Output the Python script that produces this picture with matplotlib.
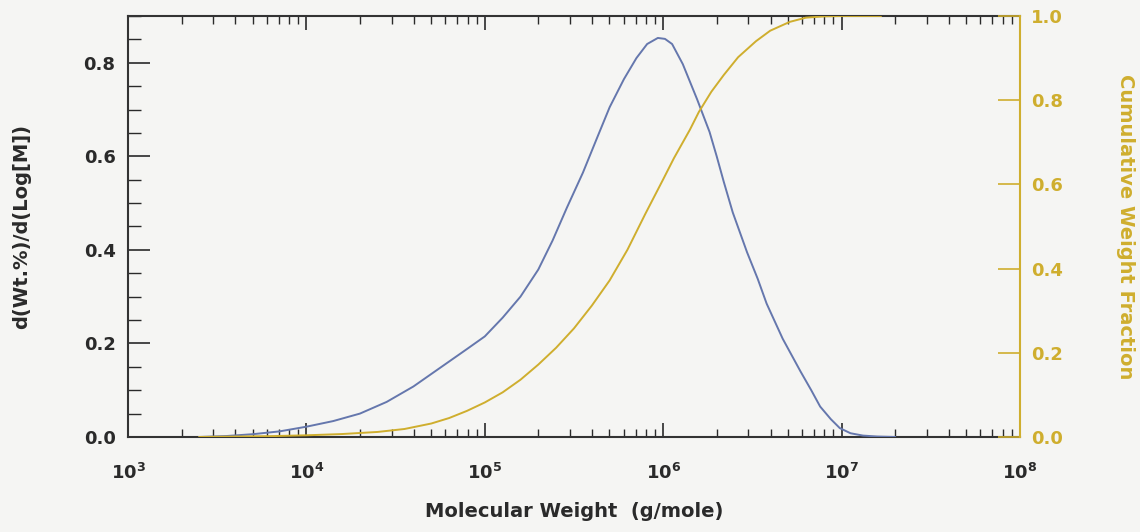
import matplotlib
matplotlib.use("Agg")
import matplotlib.pyplot as plt
from matplotlib.ticker import LogLocator, FixedLocator, MultipleLocator, FuncFormatter, NullFormatter
import numpy as np

plt.rcParams['font.family'] = ['DejaVu Sans']
plt.rcParams['font.weight'] = 'bold'
plt.rcParams['mathtext.fontset'] = 'dejavusans'

# Molecular weight distribution (log10 of M)
log_mw_dist = [3.40, 3.55, 3.70, 3.85, 4.00, 4.15, 4.30, 4.45, 4.60, 4.75, 4.90,
               5.00, 5.10, 5.20, 5.30, 5.38, 5.46, 5.55, 5.63, 5.70, 5.78, 5.85,
               5.91, 5.97, 6.01, 6.05, 6.11, 6.19, 6.26, 6.30, 6.34, 6.39, 6.47,
               6.53, 6.58, 6.67, 6.77, 6.83, 6.88, 6.94, 6.99, 7.05, 7.12, 7.20,
               7.30]
dwdlogm = [0.000, 0.002, 0.006, 0.012, 0.022, 0.034, 0.050, 0.075, 0.108, 0.148,
           0.188, 0.215, 0.255, 0.300, 0.358, 0.420, 0.490, 0.565, 0.640, 0.705,
           0.765, 0.810, 0.840, 0.853, 0.851, 0.840, 0.797, 0.722, 0.652, 0.600,
           0.545, 0.480, 0.395, 0.338, 0.285, 0.210, 0.140, 0.100, 0.065, 0.038,
           0.019, 0.008, 0.003, 0.001, 0.000]

# Cumulative weight fraction
log_mw_cum = [3.40, 3.60, 3.80, 4.00, 4.20, 4.40, 4.55, 4.70, 4.80, 4.90, 5.00,
              5.10, 5.20, 5.30, 5.40, 5.50, 5.60, 5.70, 5.80, 5.90, 6.00, 6.06,
              6.15, 6.20, 6.27, 6.34, 6.42, 6.52, 6.60, 6.71, 6.80, 6.90, 7.00,
              7.22]
cum_frac = [0.000, 0.001, 0.002, 0.004, 0.007, 0.012, 0.019, 0.032, 0.045, 0.062,
            0.082, 0.106, 0.136, 0.172, 0.212, 0.258, 0.312, 0.372, 0.445, 0.530,
            0.612, 0.662, 0.730, 0.772, 0.820, 0.860, 0.902, 0.940, 0.965, 0.986,
            0.996, 0.999, 1.000, 1.000]

blue = '#6577ad'
gold = '#cfae2e'
ink = '#2a2a2a'
bg = '#f5f5f3'

fig = plt.figure(figsize=(11.4, 5.32), dpi=100, facecolor=bg)
ax = fig.add_axes([0.1123, 0.1786, 0.7824, 0.7914], facecolor=bg)
ax2 = ax.twinx()

ax.plot(10 ** np.array(log_mw_dist), dwdlogm, color=blue, lw=1.4, zorder=3)
ax2.plot(10 ** np.array(log_mw_cum), cum_frac, color=gold, lw=1.4, zorder=2)

ax.set_xscale('log')
ax.set_xlim(1e3, 1e8)
ax.set_ylim(0, 0.9)
ax2.set_ylim(0, 1.0)

ax.xaxis.set_major_locator(LogLocator(base=10, numticks=10))
ax.xaxis.set_minor_locator(LogLocator(base=10, subs=np.arange(2, 10), numticks=20))
ax.xaxis.set_minor_formatter(NullFormatter())
ax.xaxis.set_major_formatter(FuncFormatter(lambda v, p: r'$\mathbf{10^{%d}}$' % round(np.log10(v))))

ax.yaxis.set_major_locator(FixedLocator([0.0, 0.2, 0.4, 0.6, 0.8]))
ax.yaxis.set_minor_locator(MultipleLocator(0.05))
ax.yaxis.set_major_formatter(FuncFormatter(lambda v, p: '%.1f' % v))

ax2.yaxis.set_major_locator(FixedLocator([0.0, 0.2, 0.4, 0.6, 0.8, 1.0]))
ax2.yaxis.set_major_formatter(FuncFormatter(lambda v, p: '%.1f' % v))

ax.tick_params(axis='x', which='major', direction='in', length=10, width=1.2,
               top=True, labelsize=13, pad=19, colors=ink)
ax.tick_params(axis='x', which='minor', direction='in', length=6, width=1.0,
               top=True, colors=ink)
ax.tick_params(axis='y', which='major', direction='in', length=16, width=1.2,
               right=False, labelsize=13, pad=9, colors=ink)
ax.tick_params(axis='y', which='minor', direction='in', length=9, width=1.0,
               right=False, colors=ink)
ax2.tick_params(axis='y', which='major', direction='in', length=16, width=1.2,
                labelsize=13, pad=8, colors=gold)

for s in ['left', 'bottom', 'top']:
    ax.spines[s].set_color('#333333')
    ax.spines[s].set_linewidth(1.5)
ax2.spines['right'].set_color(gold)
ax2.spines['right'].set_linewidth(1.5)
for s in ['left', 'bottom', 'top']:
    ax2.spines[s].set_visible(False)
ax.spines['right'].set_visible(False)

ax.set_xlabel('Molecular Weight  (g/mole)', fontsize=14, fontweight='bold',
              color=ink, labelpad=13)
ax.set_ylabel('d(Wt.%)/d(Log[M])', fontsize=14, fontweight='bold',
              color=ink, labelpad=38)
ax2.set_ylabel('Cumulative Weight Fraction', fontsize=14, fontweight='bold',
               color=gold, rotation=270, labelpad=52)

fig.savefig('out.png', dpi=100, facecolor=bg)
